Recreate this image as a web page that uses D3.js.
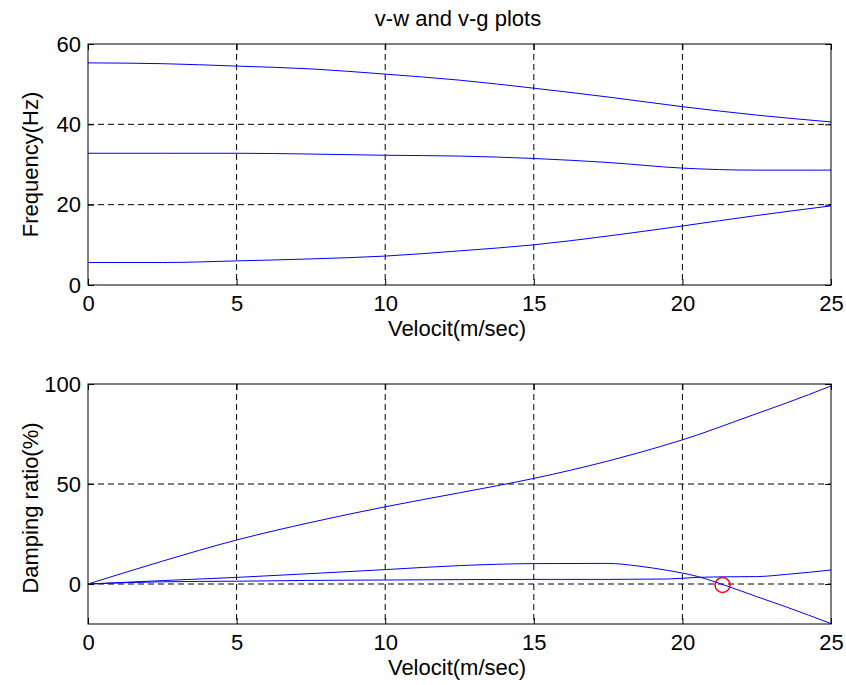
<!DOCTYPE html>
<html>
<head>
<meta charset="utf-8">
<script src="https://cdn.jsdelivr.net/npm/d3@7"></script>
<style>
  body { margin: 0; background: #fff; }
  text { font-family: "Liberation Sans", Arial, sans-serif; fill: #000; }
</style>
</head>
<body>
<div id="chart"></div>
<script>
// velocity samples (m/sec)
const velTop = [0, 2.5, 5, 7.5, 10, 12.5, 15, 17.5, 20, 22.5, 25];
const freq1 = [55.3, 55.1, 54.5, 53.8, 52.5, 51.0, 49.0, 46.8, 44.4, 42.3, 40.6];
const freq2 = [32.8, 32.8, 32.8, 32.6, 32.3, 32.1, 31.5, 30.5, 29.1, 28.6, 28.6];
const freq3 = [5.6, 5.6, 6.0, 6.5, 7.2, 8.5, 10.0, 12.2, 14.7, 17.3, 19.7];

const velBot = [0, 2.5, 5, 7.5, 10, 12.5, 15, 17.5, 18.5, 19.5, 20.5, 21.5, 22.5, 23.5, 25];
const damp1 = [0, 11.4, 22, 30.8, 38.6, 45.6, 52.8, 61.5, 65.5, 69.8, 74.5, 79.8, 85.2, 90.5, 99];
const damp2 = [0, 1.7, 3.3, 5.2, 7.2, 9.2, 10.2, 10.3, 9.0, 6.8, 3.8, -1.0, -6.3, -11.5, -19.8];
const damp3 = [0, 1.1, 1.4, 1.8, 2.0, 2.2, 2.3, 2.3, 2.4, 2.5, 3.3, 3.6, 3.7, 4.8, 7.0];

const flutterPoint = [21.35, -0.5];

const xTicks = [0, 5, 10, 15, 20, 25];
const freqTicks = [0, 20, 40, 60];
const dampTicks = [0, 50, 100];

const WIDTH = 846;
const HEIGHT = 685;
const FS = 22;       // font size

const svg = d3.select('#chart')
    .append('svg')
    .attr('width', WIDTH)
    .attr('height', HEIGHT);

function label(x, y, txt, rotate) {
    svg.append('text')
        .attr('transform', `translate(${x},${y})` + (rotate ? ' rotate(-90)' : ''))
        .attr('text-anchor', 'middle')
        .attr('font-size', FS)
        .text(txt);
}

function panel(opt) {
    const x = d3.scaleLinear().domain([0, 25]).range([88, 831]);
    const y = d3.scaleLinear().domain(opt.yDomain).range([opt.bottom, opt.top]);
    const g = svg.append('g');

    // grid
    g.append('g').selectAll('line')
        .data(xTicks.slice(1, -1))
        .enter().append('line')
        .attr('x1', d => x(d)).attr('x2', d => x(d))
        .attr('y1', opt.top).attr('y2', opt.bottom)
        .attr('stroke', '#000').attr('stroke-dasharray', '6,4');
    g.append('g').selectAll('line')
        .data(opt.yTicks.filter(d => d > opt.yDomain[0] && d < opt.yDomain[1]))
        .enter().append('line')
        .attr('x1', 88).attr('x2', 831)
        .attr('y1', d => y(d)).attr('y2', d => y(d))
        .attr('stroke', '#000').attr('stroke-dasharray', '6,4');

    // lines
    const line = d3.line()
        .x(d => x(d[0]))
        .y(d => y(d[1]))
        .curve(d3.curveMonotoneX);
    opt.series.forEach(s => {
        g.append('path')
            .datum(opt.vel.map((v, i) => [v, s[i]]))
            .attr('d', line)
            .attr('fill', 'none')
            .attr('stroke', '#0000ff')
            .attr('stroke-width', 1);
    });

    if (opt.marker) {
        g.append('circle')
            .attr('cx', x(opt.marker[0]))
            .attr('cy', y(opt.marker[1]))
            .attr('r', 7.5)
            .attr('fill', 'none')
            .attr('stroke', '#ff0000')
            .attr('stroke-width', 1.5);
    }

    // axes
    const xAxis = d3.axisBottom(x).tickValues(xTicks).tickSize(-6).tickPadding(10);
    g.append('g')
        .attr('transform', `translate(0,${opt.bottom})`)
        .call(xAxis);
    g.append('g')
        .attr('transform', `translate(0,${opt.top})`)
        .call(d3.axisTop(x).tickValues(xTicks).tickSize(-6).tickFormat(''));

    const yAxis = d3.axisLeft(y).tickValues(opt.yTicks).tickSize(-6).tickPadding(7);
    const ya = g.append('g')
        .attr('transform', 'translate(88,0)')
        .call(yAxis);
    g.append('g')
        .attr('transform', 'translate(831,0)')
        .call(d3.axisRight(y).tickValues(opt.yTicks).tickSize(-6).tickFormat(''));

    g.selectAll('.domain').remove();
    g.selectAll('.tick line').attr('stroke', '#000');
    g.selectAll('.tick text')
        .attr('font-size', FS)
        .attr('font-family', null);
    ya.selectAll('text').attr('x', -7);

    g.append('rect')
        .attr('x', 88).attr('y', opt.top)
        .attr('width', 831 - 88).attr('height', opt.bottom - opt.top)
        .attr('fill', 'none').attr('stroke', '#000');

    label(457, opt.bottom + 51, 'Velocit(m/sec)');
    label(38, (opt.top + opt.bottom) / 2 + opt.labelShift, opt.yLabel, true);
}

panel({
    top: 44, bottom: 285,
    yDomain: [0, 60], yTicks: freqTicks,
    vel: velTop, series: [freq1, freq2, freq3],
    yLabel: 'Frequency(Hz)', labelShift: 0
});

panel({
    top: 384, bottom: 624,
    yDomain: [-20, 100], yTicks: dampTicks,
    vel: velBot, series: [damp1, damp2, damp3],
    marker: flutterPoint,
    yLabel: 'Damping ratio(%)', labelShift: 4
});

label(458, 26, 'v-w and v-g plots');
</script>
</body>
</html>
